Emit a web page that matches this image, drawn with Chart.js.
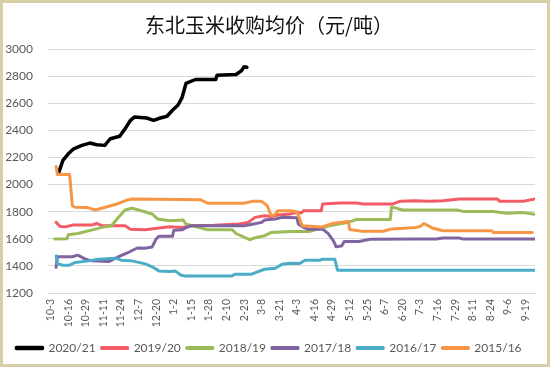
<!DOCTYPE html>
<html><head><meta charset="utf-8">
<script src="https://cdn.jsdelivr.net/npm/chart.js@4/dist/chart.umd.min.js"></script>
<style>
html,body{margin:0;padding:0;background:#fff;}
#frame{position:absolute;left:0;top:0;width:550px;height:367px;box-sizing:border-box;border:3px solid #d9cfa6;background:#fff;}
canvas{display:block;}
</style></head><body>
<div id="frame"><canvas id="c" width="544" height="361"></canvas></div>
<script>
const tickLabels = ['10-3','10-16','10-29','11-11','11-24','12-7','12-20','1-2','1-15','1-28','2-10','2-23','3-8','3-21','4-3','4-16','4-29','5-12','5-25','6-7','6-20','7-3','7-16','7-29','8-11','8-24','9-6','9-19'];
const seriesNames = ['2020/21','2019/20','2018/19','2017/18','2016/17','2015/16'];

// day offsets counted from 10-3
const days2021 = [6, 9, 13, 17, 23, 29, 34, 40, 44, 51, 55, 59, 62, 71, 76, 81, 86, 90, 94, 97, 100, 107, 122, 123, 137, 141, 143, 145];
const price2021 = [2090, 2178, 2227, 2264, 2289, 2306, 2294, 2289, 2338, 2356, 2412, 2474, 2499, 2491, 2474, 2491, 2504, 2548, 2585, 2639, 2746, 2775, 2775, 2807, 2812, 2839, 2869, 2865];

const days2020 = [4, 7, 11, 16, 30, 34, 38, 55, 59, 70, 80, 88, 97, 104, 121, 139, 146, 151, 158, 163, 168, 177, 182, 185, 187, 200, 201, 214, 226, 231, 253, 258, 269, 280, 290, 302, 330, 332, 349, 358];
const price2020 = [1721, 1691, 1688, 1701, 1701, 1713, 1696, 1696, 1671, 1667, 1679, 1689, 1684, 1696, 1700, 1709, 1721, 1758, 1770, 1765, 1775, 1783, 1795, 1790, 1807, 1807, 1857, 1864, 1864, 1857, 1857, 1876, 1880, 1876, 1880, 1894, 1894, 1876, 1876, 1894];

const days2019 = [3, 12, 13, 20, 33, 38, 45, 49, 55, 60, 67, 75, 79, 88, 98, 100, 109, 116, 134, 137, 147, 152, 158, 163, 177, 191, 199, 206, 220, 226, 251, 252, 260, 300, 305, 327, 337, 349, 358];
const price2019 = [1598, 1600, 1630, 1639, 1671, 1684, 1696, 1746, 1812, 1825, 1807, 1783, 1746, 1733, 1738, 1709, 1684, 1667, 1667, 1639, 1593, 1610, 1622, 1647, 1654, 1654, 1675, 1696, 1721, 1742, 1742, 1835, 1812, 1812, 1802, 1802, 1788, 1793, 1780];

const days2018 = [4, 5, 16, 20, 25, 30, 43, 49, 57, 64, 70, 75, 78, 80, 90, 91, 97, 102, 104, 143, 148, 156, 158, 166, 171, 182, 183, 187, 190, 201, 205, 209, 211, 215, 217, 228, 236, 269, 285, 290, 302, 305, 358];
const price2018 = [1390, 1467, 1467, 1479, 1454, 1437, 1432, 1462, 1497, 1532, 1531, 1540, 1600, 1618, 1618, 1662, 1666, 1691, 1696, 1696, 1705, 1721, 1738, 1746, 1758, 1755, 1709, 1684, 1671, 1671, 1640, 1585, 1541, 1546, 1580, 1580, 1596, 1598, 1598, 1605, 1605, 1598, 1598];

const days2017 = [4, 5, 9, 14, 18, 28, 35, 48, 52, 60, 70, 75, 80, 88, 92, 96, 99, 134, 136, 148, 158, 166, 171, 177, 184, 188, 199, 201, 210, 212, 358];
const price2017 = [1474, 1417, 1405, 1405, 1425, 1437, 1449, 1457, 1442, 1437, 1415, 1393, 1363, 1358, 1363, 1333, 1326, 1326, 1338, 1338, 1375, 1383, 1412, 1420, 1417, 1442, 1442, 1449, 1449, 1368, 1368];

const days2016 = [4, 5, 14, 16, 18, 27, 33, 49, 57, 60, 97, 111, 116, 143, 149, 156, 160, 163, 166, 168, 177, 182, 186, 200, 208, 220, 221, 230, 246, 252, 270, 273, 276, 282, 290, 326, 327, 356];
const price2016 = [2133, 2074, 2074, 1844, 1832, 1830, 1812, 1857, 1887, 1894, 1890, 1887, 1862, 1862, 1876, 1876, 1845, 1770, 1780, 1807, 1807, 1800, 1696, 1686, 1712, 1728, 1668, 1656, 1656, 1673, 1684, 1690, 1713, 1680, 1659, 1659, 1647, 1647];

const seriesDays = [days2021, days2020, days2019, days2018, days2017, days2016];
const seriesPrices = [price2021, price2020, price2019, price2018, price2017, price2016];
const seriesColors = ['#000000', '#f35b66', '#9bbb59', '#8064a2', '#4bacc6', '#f79646'];
const seriesWidths = [3.5, 3, 3, 3, 3, 3];

const datasets = seriesNames.map((name, i) => ({
  label: name,
  data: seriesDays[i].map((d, j) => ({x: d, y: seriesPrices[i][j]})),
  borderColor: seriesColors[i],
  backgroundColor: seriesColors[i],
  borderWidth: seriesWidths[i],
  borderJoinStyle: 'round',
  borderCapStyle: 'round',
  pointRadius: 0,
  tension: 0,
  order: seriesNames.length - i
}));

new Chart(document.getElementById('c'), {
  type: 'line',
  data: {datasets},
  options: {
    responsive: false,
    animation: false,
    devicePixelRatio: 1,
    layout: {padding: {left: 0, right: 12, top: 0, bottom: 0}},
    plugins: {
      title: {display: true, text: '东北玉米收购均价（元/吨）', color: '#111111',
        font: {family: "'Noto Sans CJK SC'", size: 20, weight: 'normal'}, padding: {top: 10, bottom: 12}},
      legend: {position: 'bottom', labels: {boxWidth: 26, boxHeight: 1, padding: 6, color: '#595959',
        font: {family: 'Lato', size: 12}, sort: (a, b) => a.datasetIndex - b.datasetIndex}},
      tooltip: {enabled: false}
    },
    scales: {
      x: {type: 'linear', min: -2, max: 358,
        grid: {display: false, drawTicks: false},
        border: {display: true, color: '#d9d9d9'},
        afterBuildTicks: (s) => { s.ticks = tickLabels.map((l, i) => ({value: i * 13})); },
        afterFit: (s) => { s.height = 43; },
        ticks: {autoSkip: false, maxRotation: 90, minRotation: 90, padding: 6, color: '#595959',
          font: {family: 'Lato', size: 10.5}, callback: (v) => tickLabels[Math.round(v / 13)]}},
      y: {min: 1200, max: 3000,
        afterFit: (s) => { s.width = 45; },
        grid: {color: '#d9d9d9', drawTicks: false},
        border: {display: false},
        ticks: {stepSize: 200, padding: 15, color: '#595959', font: {family: 'Lato', size: 12},
          callback: (v) => String(v)}}
    }
  }
});
</script>
</body></html>
